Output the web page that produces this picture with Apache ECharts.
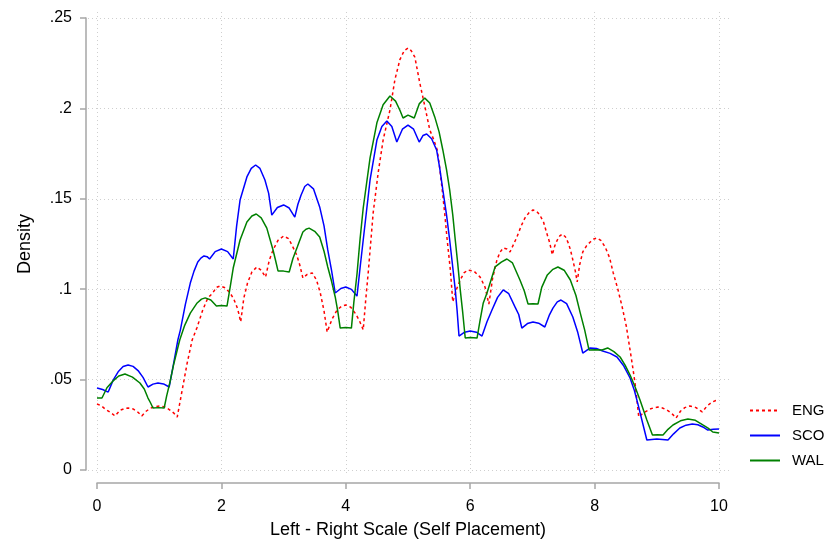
<!DOCTYPE html>
<html>
<head>
<meta charset="utf-8">
<title>Density by country</title>
<script src="https://cdn.jsdelivr.net/npm/echarts@6/dist/echarts.min.js"></script>
<style>
  html, body { margin: 0; padding: 0; background: #fff; }
  #chart { width: 825px; height: 541px; }
</style>
</head>
<body>
<div id="chart"></div>
<script>
// 密度曲线数据（从图上读取，尖点和峰值之间补了估读点）
const engX = [0, 0.07, 0.14, 0.22, 0.29, 0.37, 0.45, 0.5, 0.58, 0.65, 0.72, 0.79, 0.85, 0.92, 1.01, 1.10, 1.18, 1.24, 1.29, 1.37,
  1.45, 1.53, 1.61, 1.70, 1.78, 1.86, 1.92, 1.98, 2.06, 2.14, 2.20, 2.25, 2.28, 2.31, 2.36, 2.42, 2.49, 2.57, 2.64, 2.71,
  2.77, 2.83, 2.91, 3.0, 3.08, 3.15, 3.21, 3.26, 3.31, 3.38, 3.46, 3.53, 3.59, 3.65, 3.70, 3.78, 3.86, 3.93, 4.0, 4.08,
  4.16, 4.22, 4.28, 4.32, 4.36, 4.44, 4.52, 4.60, 4.71, 4.79, 4.87, 4.94, 5.0, 5.05, 5.11, 5.19, 5.27, 5.35, 5.41, 5.47,
  5.51, 5.55, 5.59, 5.63, 5.68, 5.72, 5.78, 5.84, 5.90, 5.96, 6.06, 6.16, 6.24, 6.30, 6.36, 6.43, 6.48, 6.53, 6.59, 6.64,
  6.70, 6.75, 6.82, 6.88, 6.95, 7.01, 7.07, 7.12, 7.18, 7.23, 7.28, 7.32, 7.36, 7.40, 7.44, 7.48, 7.53, 7.57, 7.61, 7.65,
  7.69, 7.72, 7.76, 7.81, 7.87, 7.93, 7.99, 8.04, 8.10, 8.17, 8.24, 8.30, 8.37, 8.44, 8.51, 8.57, 8.61, 8.65, 8.68, 8.71,
  8.78, 8.89, 8.96, 9.02, 9.09, 9.16, 9.24, 9.31, 9.38, 9.45, 9.53, 9.63, 9.73, 9.81, 9.89, 9.95, 10]
const engY = [.0365, .0355, .0335, .0318, .0299, .0330, .0341, .0343, .0338, .0322, .0299, .0325, .0340, .0350, .0354, .0348, .0330, .0313, .0293, .0443,
  .0592, .0719, .0790, .0885, .0950, .0979, .1010, .1018, .1008, .0979, .0945, .0902, .0865, .0819, .0950, .1034, .1095, .1123, .1105, .1067,
  .1160, .1217, .1270, .1294, .1280, .1233, .1190, .1134, .1062, .1082, .1090, .1050, .0979, .0880, .0763, .0835, .0885, .0905, .0913, .0900,
  .0863, .0825, .0775, .0940, .1090, .1422, .1643, .1825, .1991, .2160, .2270, .2320, .2334, .2320, .2284, .2140, .2013, .1881, .1830, .1770,
  .1670, .1549, .1420, .1272, .1110, .0930, .1000, .1051, .1090, .1106, .1100, .1067, .1010, .0918, .1060, .1162, .1205, .1228, .1222, .1206,
  .1250, .1288, .1350, .1394, .1425, .1438, .1430, .1410, .1370, .1311, .1255, .1190, .1240, .1272, .1295, .1305, .1290, .1261, .1220, .1162,
  .1100, .1040, .1135, .1206, .1240, .1261, .1278, .1283, .1270, .1233, .1175, .1090, .1005, .0907, .0795, .0664, .0575, .0481, .0390, .0293,
  .0315, .0337, .0345, .0348, .0343, .0332, .0313, .0288, .0325, .0345, .0354, .0345, .0321, .0355, .0376, .0384, .0387]

const scoX = [0, 0.09, 0.18, 0.26, 0.34, 0.42, 0.5, 0.58, 0.66, 0.74, 0.82, 0.9, 0.98, 1.07, 1.16, 1.23, 1.30, 1.34, 1.42, 1.50,
  1.56, 1.62, 1.67, 1.72, 1.77, 1.81, 1.90, 2.0, 2.10, 2.19, 2.245, 2.30, 2.41, 2.48, 2.55, 2.62, 2.70, 2.76, 2.81, 2.90,
  3.0, 3.09, 3.18, 3.23, 3.28, 3.34, 3.39, 3.48, 3.58, 3.65, 3.71, 3.77, 3.83, 3.92, 4.0, 4.09, 4.18, 4.23, 4.28, 4.39,
  4.50, 4.58, 4.66, 4.74, 4.82, 4.91, 5.0, 5.09, 5.18, 5.24, 5.30, 5.38, 5.46, 5.51, 5.56, 5.62, 5.67, 5.72, 5.76, 5.79,
  5.82, 5.91, 6.0, 6.10, 6.19, 6.27, 6.35, 6.44, 6.53, 6.62, 6.72, 6.78, 6.83, 6.92, 7.01, 7.10, 7.20, 7.27, 7.33, 7.40,
  7.46, 7.55, 7.65, 7.73, 7.81, 7.93, 8.03, 8.13, 8.25, 8.36, 8.47, 8.57, 8.64, 8.70, 8.78, 8.84, 9.0, 9.18, 9.27, 9.37,
  9.47, 9.57, 9.66, 9.74, 9.82, 9.91, 10]
const scoY = [.0454, .0445, .0431, .0497, .0543, .0572, .0581, .0573, .0550, .0512, .0459, .0475, .0481, .0476, .0459, .0585, .0719, .0774, .0915, .1034,
  .1100, .1150, .1172, .1184, .1180, .1167, .1208, .1222, .1208, .1167, .1350, .1493, .1621, .1668, .1687, .1668, .1604, .1530, .1410, .1452,
  .1466, .1449, .1399, .1470, .1520, .1568, .1582, .1555, .1455, .1350, .1217, .1105, .0979, .1004, .1012, .0999, .0962, .1120, .1272, .1604,
  .1825, .1900, .1930, .1900, .1814, .1885, .1908, .1885, .1814, .1850, .1858, .1832, .1770, .1670, .1549, .1410, .1272, .1120, .0996, .0880,
  .0741, .0762, .0769, .0762, .0741, .0820, .0885, .0955, .0996, .0975, .0902, .0860, .0785, .0810, .0819, .0812, .0791, .0855, .0895, .0930,
  .0940, .0920, .0846, .0760, .0647, .0675, .0672, .0658, .0645, .0625, .0575, .0509, .0440, .0360, .0249, .0166, .0172, .0166, .0200, .0232,
  .0248, .0254, .0250, .0238, .0221, .0225, .0227]

const walX = [0, 0.08, 0.16, 0.25, 0.35, 0.45, 0.57, 0.69, 0.76, 0.82, 0.86, 0.90, 0.99, 1.08, 1.12, 1.17, 1.23, 1.29, 1.33, 1.41,
  1.50, 1.61, 1.68, 1.74, 1.83, 1.92, 2.0, 2.09, 2.14, 2.19, 2.30, 2.41, 2.49, 2.56, 2.64, 2.73, 2.83, 2.87, 2.91, 3.0,
  3.09, 3.15, 3.22, 3.31, 3.36, 3.41, 3.50, 3.58, 3.65, 3.71, 3.77, 3.83, 3.87, 3.91, 4.0, 4.09, 4.13, 4.18, 4.23, 4.28,
  4.39, 4.50, 4.60, 4.71, 4.80, 4.87, 4.92, 5.0, 5.10, 5.18, 5.27, 5.35, 5.43, 5.50, 5.56, 5.62, 5.67, 5.72, 5.76, 5.80,
  5.84, 5.88, 5.92, 6.0, 6.11, 6.16, 6.21, 6.27, 6.40, 6.50, 6.59, 6.68, 6.80, 6.87, 6.93, 7.01, 7.09, 7.15, 7.24, 7.33,
  7.41, 7.51, 7.61, 7.70, 7.77, 7.84, 7.91, 8.01, 8.12, 8.21, 8.31, 8.41, 8.49, 8.57, 8.65, 8.73, 8.84, 8.93, 9.01, 9.10,
  9.18, 9.26, 9.38, 9.50, 9.62, 9.74, 9.83, 9.90, 10]
const walY = [.0398, .0398, .0455, .0490, .0520, .0531, .0514, .0481, .0448, .0398, .0372, .0343, .0345, .0343, .0410, .0481, .0580, .0664, .0719, .0800,
  .0868, .0924, .0945, .0952, .0940, .0907, .0910, .0907, .1010, .1117, .1272, .1372, .1405, .1416, .1395, .1338, .1217, .1160, .1101, .1100,
  .1095, .1170, .1233, .1316, .1332, .1338, .1320, .1289, .1210, .1123, .1045, .0957, .0880, .0785, .0788, .0785, .0930, .1084, .1280, .1449,
  .1726, .1920, .2020, .2069, .2040, .1990, .1947, .1963, .1947, .2025, .2057, .2030, .1953, .1870, .1770, .1660, .1549, .1410, .1272, .1140,
  .0996, .0870, .0730, .0733, .0730, .0830, .0924, .0979, .1123, .1150, .1167, .1145, .1051, .0990, .0918, .0920, .0918, .1010, .1079, .1110,
  .1123, .1105, .1051, .0965, .0868, .0775, .0664, .0665, .0664, .0675, .0655, .0625, .0580, .0525, .0460, .0387, .0277, .0194, .0195, .0194,
  .0225, .0249, .0272, .0282, .0275, .0249, .0230, .0210, .0205]

const seriesNames = ['ENG', 'SCO', 'WAL']
const seriesColors = ['#ff0000', '#0000ff', '#008000']

const zip = (xs, ys) => xs.map((x, i) => [x, ys[i]])

const chart = echarts.init(document.getElementById('chart'))
const font = 'Liberation Sans, Arial, sans-serif'
const axisGray = '#a6a6a6'
const gridDots = { color: '#cfcfcf', width: 1, type: [1, 3] }

const lineSeries = (i, xs, ys, dash) => ({
  name: seriesNames[i], type: 'line', data: zip(xs, ys),
  symbol: 'none', showSymbol: false,
  lineStyle: { color: seriesColors[i], width: 1.5, type: dash },
  itemStyle: { color: seriesColors[i] }
})

const option = {
  animation: false,
  backgroundColor: '#fff',
  textStyle: { fontFamily: font },
  grid: [
    { left: 97, right: 106, top: 18, bottom: 71, outerBoundsMode: 'none' }, // 数据区
    { left: 88, right: 93, top: 18, bottom: 71, outerBoundsMode: 'none' }, // 横向网格线
    { left: 97, right: 106, top: 12, bottom: 65, outerBoundsMode: 'none' }  // 纵向网格线
  ],
  xAxis: [
    {
      gridIndex: 0, type: 'value', min: 0, max: 10, interval: 2, offset: 13,
      axisLine: { show: true, onZero: false, lineStyle: { color: axisGray, width: 1.5 } },
      axisTick: { show: true, length: 6, lineStyle: { color: axisGray, width: 1.5 } },
      axisLabel: { color: '#000', fontSize: 16, margin: 16, fontFamily: font },
      splitLine: { show: false },
      name: 'Left - Right Scale (Self Placement)',
      nameLocation: 'middle', nameGap: 38,
      nameTextStyle: { color: '#000', fontSize: 18, fontFamily: font }
    },
    { gridIndex: 1, type: 'value', min: 0, max: 10, show: false },
    {
      gridIndex: 2, type: 'value', min: 0, max: 10, interval: 2,
      axisLine: { show: false }, axisTick: { show: false }, axisLabel: { show: false },
      splitLine: { show: true, lineStyle: gridDots }
    }
  ],
  yAxis: [
    {
      gridIndex: 0, type: 'value', min: 0, max: 0.25, interval: 0.05, offset: 11,
      axisLine: { show: true, onZero: false, lineStyle: { color: axisGray, width: 1.5 } },
      axisTick: { show: true, length: 6, lineStyle: { color: axisGray, width: 1.5 } },
      axisLabel: {
        color: '#000', fontSize: 16, margin: 14, fontFamily: font,
        formatter: v => v === 0 ? '0' : String(+v.toFixed(2)).replace(/^0/, '')
      },
      splitLine: { show: false },
      name: 'Density', nameLocation: 'middle', nameGap: 52, nameRotate: 90,
      nameTextStyle: { color: '#000', fontSize: 18, fontFamily: font }
    },
    {
      gridIndex: 1, type: 'value', min: 0, max: 0.25, interval: 0.05,
      axisLine: { show: false }, axisTick: { show: false }, axisLabel: { show: false },
      splitLine: { show: true, lineStyle: gridDots }
    },
    { gridIndex: 2, type: 'value', min: 0, max: 1, show: false }
  ],
  legend: {
    orient: 'vertical', left: 749, top: 403, padding: 0,
    itemWidth: 30, itemHeight: 14, itemGap: 10,
    data: seriesNames,
    itemStyle: { opacity: 0 },
    textStyle: { color: '#000', fontSize: 15, fontFamily: font, padding: [0, 0, 0, 7] }
  },
  series: [
    lineSeries(0, engX, engY, [3, 3]),
    lineSeries(1, scoX, scoY, 'solid'),
    lineSeries(2, walX, walY, 'solid')
  ]
}
chart.setOption(option)
</script>
</body>
</html>
